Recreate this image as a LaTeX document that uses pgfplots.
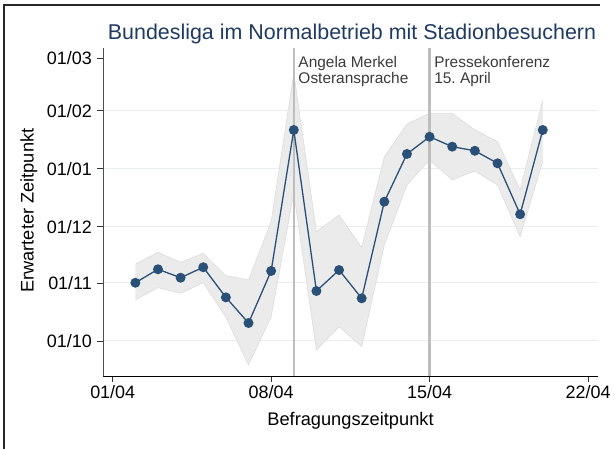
\documentclass[border=0pt]{standalone}
\usepackage{fontspec}
\setmainfont{Liberation Sans}
\usepackage{pgfplots}
\usepackage{pgfplotstable}
\pgfplotsset{compat=1.18}
\usepgfplotslibrary{fillbetween}
\frenchspacing
\definecolor{navy}{HTML}{2A5078}
\definecolor{cifill}{HTML}{EBEBEB}
\definecolor{ciedge}{HTML}{DCDCDC}
\definecolor{vline}{HTML}{BEBEBE}
\definecolor{gridc}{HTML}{E6EEF0}
\definecolor{titlec}{HTML}{1F3A63}
\definecolor{annc}{HTML}{3A3A3A}

% day of April, expected date in days since 1 October
\pgfplotstableread{
x mean lo hi
2 31.1 21.9 41.0
3 38.3 28.5 47.4
4 33.8 25.5 42.0
5 39.4 31.1 46.8
6 23.3 12.8 34.9
7 9.6 -12.8 32.6
8 37.4 13.0 63.7
9 112.7 78.9 143.0
10 26.7 -4.8 58.4
11 37.9 7.6 67.3
12 22.8 -3.0 49.9
13 74.4 51.3 98.4
14 99.9 83.3 115.9
15 109.1 96.7 121.6
16 103.8 86.0 121.6
17 101.6 90.8 112.7
18 94.9 83.3 106.5
19 67.7 55.7 80.7
20 112.7 96.1 128.7
}\datatable

\begin{document}
\begin{tikzpicture}
\begin{axis}[
  at={(0,0)}, anchor=south west,
  scale only axis, width=495bp, height=328bp,
  xmin=0.571, xmax=22.44, ymin=-18.7, ymax=156.5,
  axis x line*=bottom, axis y line*=left,
  axis line style={-},
  x axis line style={black},
  y axis line style={black!70},
  tick align=outside, major tick length=6bp,
  tick style={black!80, line width=0.8bp},
  xtick={1,8,15,22}, xticklabels={01/04,08/04,15/04,22/04},
  ytick={0,31,61,92,123,151},
  yticklabels={01/10,01/11,01/12,01/01,01/02,01/03},
  extra y ticks={0,31,61,92,123},
  extra y tick labels={},
  extra y tick style={grid=major, major grid style={gridc, line width=1bp}},
  tick label style={font=\fontsize{18}{20}\selectfont},
  yticklabel style={inner sep=0pt, xshift=-5bp},
  xticklabel style={inner sep=0pt, yshift=-3bp},
  xlabel={Befragungszeitpunkt},
  ylabel={Erwarteter Zeitpunkt},
  label style={font=\fontsize{18.3}{20}\selectfont},
  xlabel style={at={(axis description cs:0.5,-0.1524)}, anchor=base, inner sep=0pt},
  ylabel style={at={(axis description cs:-0.1495,0.504)}, anchor=center, inner sep=0pt},
  clip=false,
]
\addplot[name path=up, draw=ciedge, line width=0.6bp, forget plot] table[x=x, y=hi] {\datatable};
\addplot[name path=lo, draw=ciedge, line width=0.6bp, forget plot] table[x=x, y=lo] {\datatable};
\addplot[cifill, forget plot] fill between[of=up and lo];
\draw[vline, line width=2.5bp] (axis cs:9,-18.7) -- (axis cs:9,156.5);
\draw[vline, line width=2.5bp] (axis cs:15,-18.7) -- (axis cs:15,156.5);
\addplot[navy, line width=1.3bp, mark=*, mark size=4.3bp, mark options={fill=navy, draw=navy}] table[x=x, y=mean] {\datatable};
\node[anchor=north west, align=left, text=annc, font=\fontsize{15.5}{15.5}\selectfont, inner sep=0pt] at ([xshift=4.5bp, yshift=-8.5bp]axis cs:9,156.5) {Angela Merkel\\Osteransprache};
\node[anchor=north west, align=left, text=annc, font=\fontsize{15.5}{15.5}\selectfont, inner sep=0pt] at ([xshift=4.5bp, yshift=-8.5bp]axis cs:15,156.5) {Pressekonferenz\\15. April};
\end{axis}
\node[anchor=base, text=titlec, font=\fontsize{21.5}{24}\selectfont, inner sep=0pt] at (249bp,336.5bp) {Bundesliga im Normalbetrieb mit Stadionbesuchern};
\draw[line width=1.2bp, black!85] (-99bp,-80bp) -- (-99bp,371bp) -- (497bp,371bp);
\pgfresetboundingbox
\path[use as bounding box] (-103bp,-73bp) rectangle (511bp,376bp);
\end{tikzpicture}
\end{document}
